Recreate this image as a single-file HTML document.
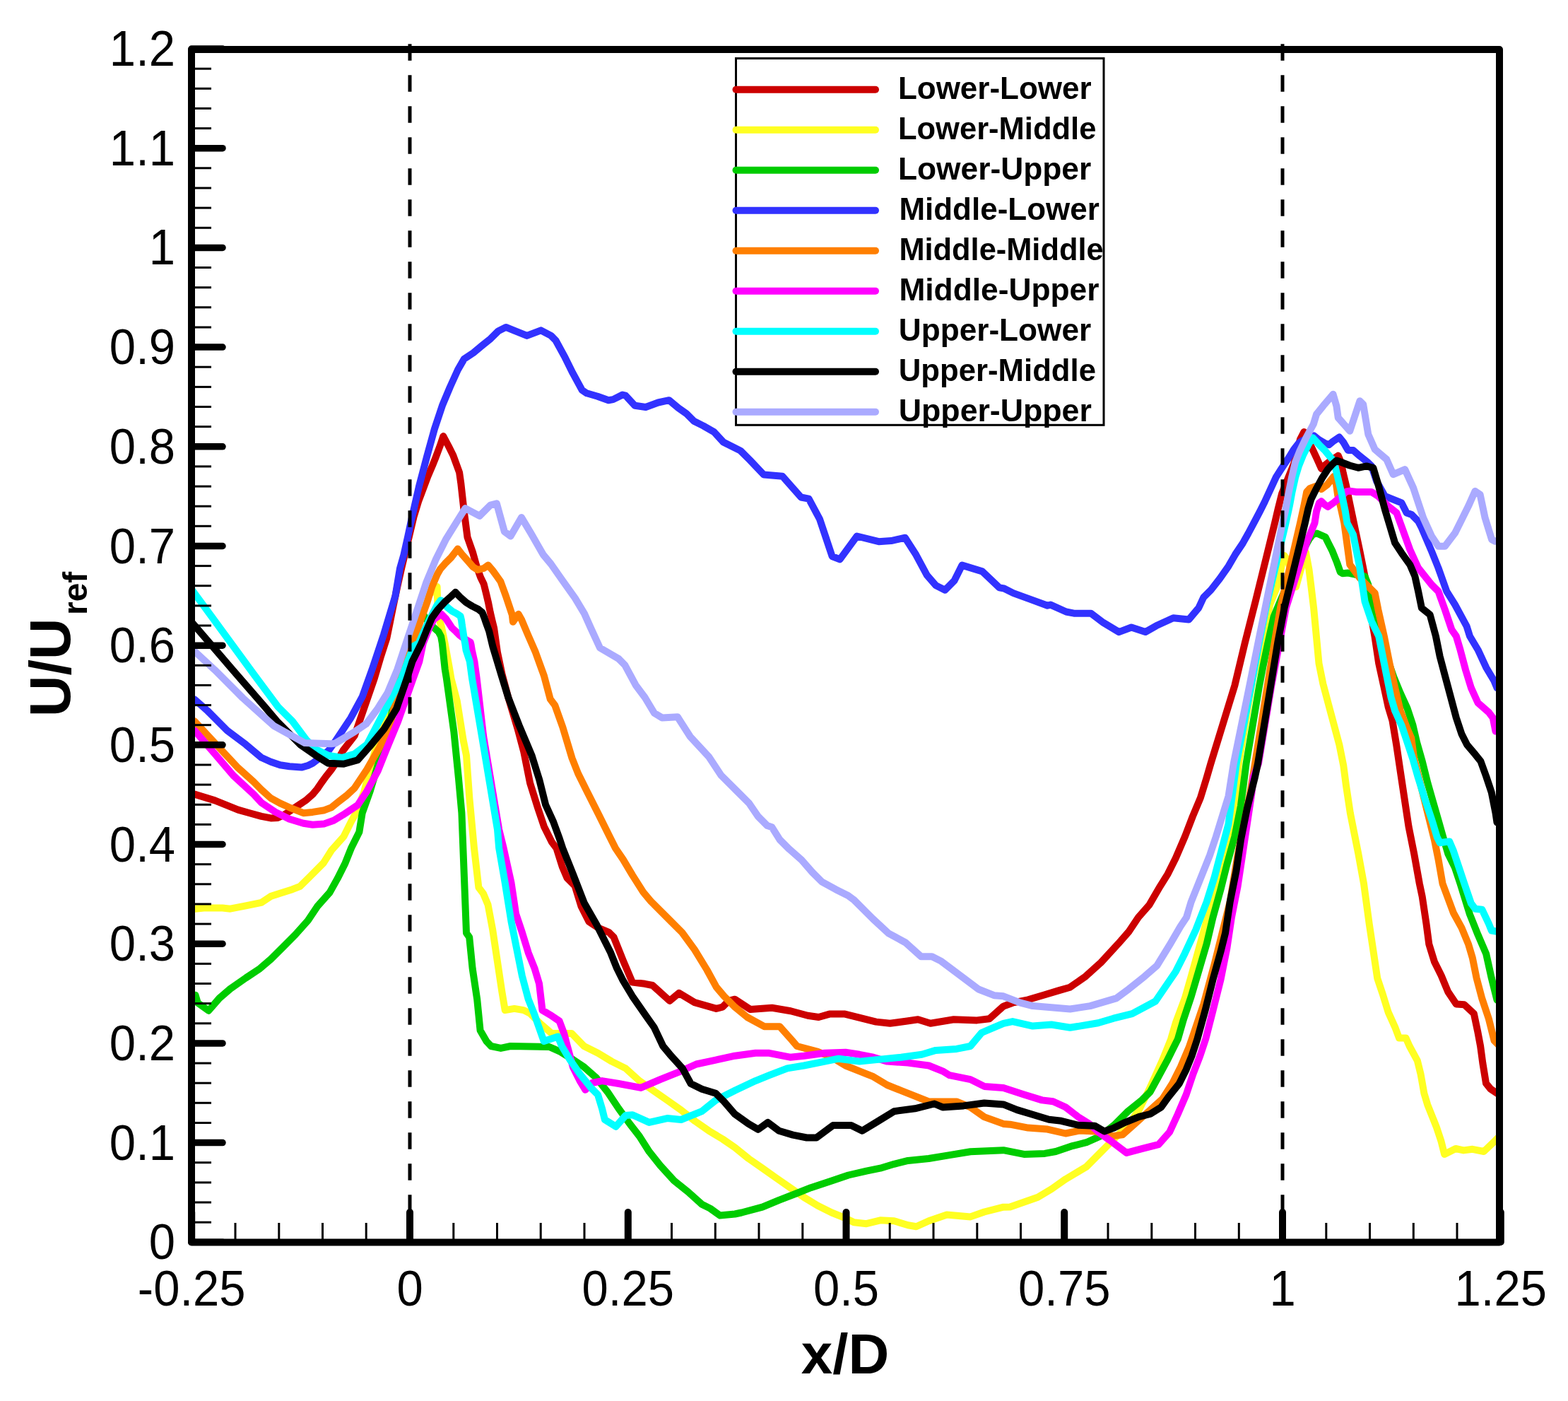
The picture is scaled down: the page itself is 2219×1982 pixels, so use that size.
<!DOCTYPE html>
<html><head><meta charset="utf-8"><title>U/Uref vs x/D</title>
<style>html,body{margin:0;padding:0;background:#fff;}svg{display:block;}</style>
</head><body>
<svg xmlns="http://www.w3.org/2000/svg" width="2219" height="1982" viewBox="0 0 2219 1982">
<defs><clipPath id="clip"><rect x="271" y="70" width="1851" height="1687.5"/></clipPath></defs>
<rect width="2219" height="1982" fill="#fff"/>
<g fill="none" stroke-linejoin="round" stroke-linecap="round" clip-path="url(#clip)">
<polyline points="275.4,1123.6 304.0,1132.4 336.9,1145.6 352.3,1150.0 370.0,1154.8 383.2,1157.4 393.0,1157.0 403.0,1152.2 413.0,1145.5 422.7,1139.0 432.6,1132.4 442.5,1123.8 449.1,1115.9 454.4,1108.0 461.0,1098.8 468.9,1088.9 477.0,1077.0 485.4,1061.9 501.8,1040.7 529.7,960.0 538.5,930.3 547.3,902.9 552.0,880.0 556.2,859.0 562.0,831.4 568.2,804.0 578.7,760.0 585.5,731.4 592.1,709.5 598.7,691.9 605.3,674.3 611.9,658.9 616.3,647.9 622.9,630.3 627.3,617.1 634.7,631.0 641.3,644.2 650.1,668.4 652.3,683.7 656.7,723.3 661.5,760.0 669.2,782.0 674.7,801.8 680.2,817.1 684.6,825.9 688.1,840.0 691.2,853.2 693.8,866.4 696.9,879.6 699.1,888.4 704.0,923.1 710.5,953.8 719.3,986.8 732.5,1030.8 741.3,1063.7 750.1,1107.7 761.1,1142.9 769.9,1169.2 780.9,1191.2 787.5,1200.0 796.0,1226.9 802.6,1242.3 813.6,1253.3 822.4,1281.9 833.4,1303.8 846.6,1312.6 862.0,1319.2 868.6,1325.8 881.8,1358.8 894.9,1389.6 912.5,1391.8 923.5,1394.0 947.7,1415.9 960.9,1404.9 982.9,1418.1 1013.6,1426.9 1022.4,1424.7 1031.2,1415.9 1040.0,1413.7 1061.8,1428.0 1092.5,1425.8 1118.9,1430.2 1143.1,1436.8 1158.5,1439.0 1173.8,1434.6 1195.8,1434.6 1239.8,1445.6 1259.6,1447.8 1283.7,1444.5 1299.1,1442.3 1316.7,1447.8 1349.7,1442.3 1382.6,1443.4 1400.2,1441.2 1420.0,1423.6 1433.0,1418.7 1454.9,1414.3 1476.9,1407.7 1498.9,1401.1 1514.3,1396.7 1536.3,1381.3 1558.2,1361.5 1582.4,1335.2 1597.8,1317.6 1611.0,1297.8 1626.4,1280.2 1641.8,1253.8 1652.7,1236.3 1663.7,1214.3 1676.9,1183.5 1687.9,1154.9 1698.9,1128.6 1707.7,1100.0 1713.5,1080.0 1747.3,970.0 1761.8,909.3 1776.9,850.0 1804.0,740.0 1808.7,720.0 1814.2,698.0 1823.2,675.5 1831.2,656.0 1840.0,621.5 1845.4,611.0 1851.0,622.0 1857.7,636.2 1863.1,647.7 1870.0,663.0 1874.6,658.5 1882.3,652.3 1893.8,644.6 1897.7,653.8 1900.8,669.2 1905.4,688.5 1910.0,711.5 1924.4,779.9 1933.9,827.1 1941.0,874.4 1945.4,900.0 1951.2,938.5 1958.8,973.1 1964.6,1000.0 1970.4,1019.2 1976.2,1053.8 1981.9,1092.3 1987.7,1130.8 1993.5,1169.2 2001.2,1207.7 2008.8,1250.0 2012.7,1268.5 2018.5,1306.9 2022.3,1335.8 2030.0,1360.8 2039.6,1380.0 2049.2,1403.1 2060.8,1420.4 2072.3,1421.3 2085.8,1433.8 2091.5,1460.8 2095.1,1480.0 2098.3,1503.9 2103.0,1532.6 2109.4,1540.5 2123.7,1550.1" stroke="#cc0000" stroke-width="10"/>
<polyline points="276.5,1285.7 288.6,1284.6 314.9,1284.6 325.9,1285.7 347.9,1281.3 369.9,1276.9 383.1,1268.1 396.3,1263.7 413.8,1258.2 424.8,1253.8 438.0,1240.7 457.8,1220.9 468.8,1203.3 486.4,1183.5 497.4,1161.5 504.0,1150.0 514.9,1121.4 525.9,1079.7 539.1,1033.5 552.3,991.8 560.4,960.0 568.1,938.0 576.9,913.8 585.4,910.0 591.1,878.4 597.3,852.0 607.8,841.0 618.6,830.0 618.9,843.2 619.5,854.2 621.0,874.0 624.9,887.1 629.6,910.0 636.3,946.8 638.5,960.0 646.8,991.8 655.6,1046.7 660.0,1068.7 664.4,1129.7 671.0,1200.0 677.4,1255.5 684.0,1264.3 690.5,1279.7 697.1,1314.8 703.7,1358.8 710.3,1402.7 714.7,1429.1 727.9,1426.9 741.1,1429.1 749.9,1433.5 763.1,1446.7 780.7,1462.1 809.2,1462.1 826.5,1480.0 846.1,1489.8 865.7,1501.6 885.3,1511.4 905.0,1529.1 924.6,1542.8 944.2,1556.5 963.8,1570.3 983.5,1586.0 1003.1,1599.7 1022.7,1611.5 1040.0,1623.3 1059.3,1639.0 1078.9,1652.7 1098.5,1666.5 1118.1,1680.2 1137.8,1693.9 1157.4,1705.7 1177.0,1715.5 1196.6,1723.4 1208.4,1729.3 1226.1,1731.2 1245.7,1726.3 1265.3,1727.3 1285.0,1733.2 1296.7,1735.2 1314.4,1727.3 1339.9,1718.5 1373.3,1721.4 1392.9,1714.5 1420.0,1707.7 1429.4,1707.5 1468.7,1693.7 1488.3,1682.0 1507.9,1668.2 1537.4,1650.6 1557.0,1630.9 1576.6,1611.3 1596.3,1591.7 1612.0,1570.1 1625.7,1542.6 1635.5,1521.0 1645.3,1499.4 1653.2,1479.8 1657.1,1470.0 1663.7,1447.3 1676.9,1412.1 1685.7,1381.3 1696.7,1341.8 1707.7,1302.2 1718.7,1262.6 1729.7,1223.1 1738.5,1183.5 1747.3,1144.0 1753.0,1080.0 1773.0,960.0 1791.0,889.6 1797.2,855.0 1806.4,832.3 1811.6,812.5 1814.3,796.0 1817.6,786.1 1822.2,792.7 1834.0,830.3 1847.9,780.9 1852.5,805.9 1855.8,832.3 1859.1,860.0 1866.5,938.5 1872.3,967.3 1880.0,996.2 1887.7,1025.0 1895.4,1053.8 1901.2,1082.7 1905.0,1111.5 1910.8,1150.0 1916.5,1178.8 1922.3,1207.7 1930.0,1250.0 1937.7,1306.9 1943.5,1345.4 1949.2,1383.8 1956.9,1406.9 1964.6,1431.9 1974.2,1453.1 1980.0,1468.5 1989.6,1468.5 1994.7,1480.0 2005.9,1500.7 2010.6,1519.8 2015.4,1546.9 2020.2,1562.8 2026.6,1578.8 2032.9,1594.7 2039.3,1613.8 2044.1,1632.9 2060.0,1625.0 2071.2,1627.4 2083.9,1625.8 2099.9,1629.0 2115.8,1613.8 2123.7,1605.9" stroke="#ffff22" stroke-width="10"/>
<polyline points="276.5,1407.7 279.8,1418.7 295.2,1429.7 310.5,1412.1 325.9,1398.9 347.9,1383.5 367.7,1370.3 383.1,1357.1 400.7,1339.6 418.2,1322.0 435.8,1302.2 449.0,1282.4 466.6,1262.6 477.6,1242.9 488.6,1220.9 497.4,1198.9 508.4,1176.9 512.7,1150.0 523.7,1119.2 536.9,1075.3 550.1,1033.5 563.2,960.0 571.4,935.8 575.3,910.0 584.5,887.1 591.1,869.6 596.4,863.4 602.1,874.8 612.2,886.3 620.5,893.7 624.1,900.3 625.8,910.0 629.7,946.8 631.9,960.0 642.4,1035.7 649.0,1101.6 653.4,1150.0 660.0,1319.8 664.2,1325.8 668.6,1369.8 675.2,1413.7 679.6,1457.7 688.4,1473.1 695.0,1480.0 708.7,1482.9 722.4,1480.0 777.4,1481.0 793.1,1487.9 808.8,1497.7 826.5,1509.4 844.1,1525.1 859.8,1544.8 875.5,1568.3 891.2,1589.9 905.0,1607.6 918.7,1629.2 934.4,1648.8 954.0,1670.4 973.7,1686.1 993.3,1703.7 1005.1,1709.6 1018.8,1719.5 1040.0,1717.5 1049.4,1715.5 1078.9,1707.7 1102.4,1697.9 1127.9,1688.0 1147.6,1680.2 1177.0,1670.4 1200.6,1662.5 1226.1,1656.6 1245.7,1652.7 1265.3,1646.8 1285.0,1641.9 1314.4,1639.0 1343.8,1634.1 1373.3,1629.2 1420.0,1627.2 1449.1,1632.9 1478.5,1631.9 1494.2,1629.0 1517.8,1621.1 1537.4,1616.2 1557.0,1607.4 1576.6,1591.7 1596.3,1572.1 1615.9,1556.4 1627.7,1544.6 1639.5,1523.0 1651.2,1501.4 1661.0,1481.8 1666.9,1470.0 1674.7,1442.9 1685.7,1409.9 1696.7,1372.5 1707.7,1335.2 1716.5,1297.8 1727.5,1258.2 1736.3,1223.1 1747.3,1183.5 1756.0,1139.6 1763.6,1080.0 1782.2,970.0 1787.5,942.3 1794.4,909.3 1802.6,872.4 1812.0,850.0 1824.0,822.0 1836.0,797.0 1846.0,775.0 1852.5,763.0 1858.0,756.0 1863.7,754.5 1875.6,759.8 1878.9,766.4 1885.5,779.6 1892.1,796.0 1896.7,809.2 1900.0,811.2 1907.9,810.6 1919.7,813.0 1931.5,815.3 1936.3,827.1 1938.6,850.8 1943.3,874.4 1972.3,957.7 1981.9,980.8 1991.5,1001.9 1999.2,1025.0 2005.0,1050.0 2012.7,1076.9 2020.4,1107.7 2028.1,1134.6 2035.8,1161.5 2043.5,1188.5 2049.2,1207.7 2058.8,1226.9 2066.5,1250.0 2080.0,1293.5 2091.5,1322.3 2103.1,1349.2 2110.8,1383.8 2118.5,1414.6" stroke="#00cc00" stroke-width="10"/>
<polyline points="275.4,989.6 293.0,1004.9 321.5,1033.5 347.9,1053.3 370.0,1071.8 383.2,1077.7 396.4,1082.3 409.6,1084.3 426.7,1085.6 435.9,1083.0 442.5,1079.7 455.7,1069.8 465.6,1061.2 474.3,1048.9 496.3,1015.9 512.7,985.7 526.5,947.3 543.0,897.8 559.5,842.9 566.0,804.0 571.4,785.0 577.0,760.0 582.0,736.5 593.0,688.1 604.0,646.4 614.9,606.8 625.9,573.8 636.9,547.5 647.9,523.3 656.7,507.9 669.9,499.1 683.1,488.1 694.1,479.3 705.1,468.4 716.0,462.9 727.0,467.3 745.7,474.9 765.5,467.3 779.8,474.9 786.4,481.5 799.6,505.7 810.5,527.7 823.7,551.9 830.3,556.3 845.7,560.7 861.1,566.2 867.7,565.1 880.9,558.5 885.3,559.6 898.5,573.8 913.8,576.0 931.4,569.5 946.8,566.2 960.0,577.1 971.0,584.8 982.0,595.8 995.2,602.4 1010.5,611.2 1023.7,625.5 1047.9,637.6 1061.1,650.8 1080.9,671.6 1107.3,673.8 1133.6,703.5 1144.6,705.7 1160.0,734.3 1168.8,760.7 1177.6,787.0 1188.6,791.4 1212.7,758.5 1243.5,766.2 1261.1,765.1 1280.9,760.7 1296.3,784.8 1311.6,813.4 1324.2,828.1 1337.4,834.7 1350.5,821.5 1361.5,799.6 1390.1,808.4 1414.3,831.4 1420.9,832.5 1434.1,839.1 1458.2,847.9 1482.4,856.7 1486.8,855.6 1508.8,865.5 1519.8,867.7 1544.0,867.7 1561.5,880.9 1583.5,894.1 1601.1,887.5 1620.9,894.1 1636.3,885.3 1660.4,874.3 1682.4,876.5 1696.3,860.0 1703.3,845.0 1713.8,834.5 1726.2,818.7 1738.5,801.1 1748.1,784.4 1758.7,768.6 1766.6,754.5 1774.5,739.6 1782.4,724.6 1789.5,710.5 1805.9,674.9 1813.0,663.8 1823.8,647.5 1830.8,636.0 1837.8,627.0 1843.8,623.0 1859.2,616.2 1866.9,622.3 1874.6,626.9 1880.8,629.2 1886.2,624.6 1895.4,618.5 1901.5,626.2 1907.7,636.9 1915.0,636.9 1924.4,645.2 1936.3,654.7 1941.0,659.4 1948.1,680.7 1959.9,701.9 1983.5,711.4 1990.6,725.5 1997.7,727.9 2007.1,737.4 2011.9,746.8 2026.0,779.9 2035.5,803.5 2047.3,836.6 2059.1,855.5 2075.7,886.2 2080.0,900.0 2091.5,919.2 2103.1,944.2 2114.6,963.5 2118.5,973.1" stroke="#3232ff" stroke-width="10"/>
<polyline points="275.4,1020.3 304.0,1051.1 336.9,1086.3 358.9,1106.0 370.0,1117.2 383.2,1129.1 396.4,1136.4 409.6,1142.3 429.3,1150.2 442.5,1148.9 459.0,1146.2 468.9,1142.3 478.8,1134.4 490.0,1125.8 501.8,1114.8 519.3,1088.5 536.9,1057.7 552.3,1026.9 565.9,960.0 574.7,935.8 584.9,910.0 590.7,891.5 596.6,874.0 604.5,852.0 611.3,830.0 618.7,812.7 623.1,805.1 629.7,797.4 638.5,788.6 647.8,776.5 653.8,784.2 662.6,794.1 669.2,801.8 675.8,806.2 684.6,804.0 690.8,799.6 697.4,807.3 702.9,814.9 708.4,822.6 711.6,831.4 716.0,843.5 720.4,856.7 724.8,869.9 725.9,879.8 733.6,868.8 738.0,876.5 746.8,897.4 757.8,922.6 769.9,956.0 778.7,989.0 785.3,997.8 796.3,1028.6 809.5,1072.5 818.2,1094.5 831.4,1120.9 846.8,1151.6 862.2,1182.4 871.0,1200.0 881.8,1215.9 894.9,1237.9 910.3,1262.1 921.3,1275.3 947.7,1301.6 965.3,1319.2 982.9,1343.4 1000.4,1372.0 1013.6,1396.2 1024.6,1409.3 1040.0,1424.7 1057.4,1439.0 1081.5,1452.2 1103.5,1452.2 1121.1,1472.0 1127.9,1480.0 1157.4,1487.9 1177.0,1495.7 1196.6,1507.5 1216.3,1515.3 1235.9,1523.2 1255.5,1535.0 1275.2,1542.8 1294.8,1550.7 1314.4,1558.5 1324.2,1558.5 1353.7,1558.5 1373.3,1566.4 1392.9,1580.1 1420.0,1589.9 1429.4,1590.7 1455.0,1595.6 1482.4,1597.6 1507.9,1603.5 1527.6,1599.5 1549.2,1600.5 1572.7,1607.4 1588.4,1605.4 1606.1,1589.7 1625.7,1572.1 1645.3,1554.4 1659.1,1532.8 1670.9,1509.3 1682.6,1481.8 1686.6,1470.0 1703.3,1420.9 1718.7,1363.7 1729.7,1319.8 1740.7,1275.8 1751.6,1209.9 1760.4,1165.9 1769.2,1122.0 1776.1,1080.0 1793.7,970.0 1803.6,909.3 1812.0,860.0 1840.0,740.0 1845.4,715.4 1849.2,696.0 1853.8,691.0 1862.0,688.0 1870.0,692.0 1878.0,686.0 1887.7,674.0 1891.0,685.0 1893.1,700.0 1897.7,719.2 1902.3,740.0 1910.3,798.8 1924.4,817.7 1945.7,839.0 1950.4,862.6 1958.8,900.0 1966.5,938.5 1974.2,973.1 1981.9,1005.8 1991.5,1030.8 1997.3,1044.2 2001.2,1073.1 2010.8,1111.5 2020.4,1150.0 2030.0,1188.5 2035.8,1217.3 2041.5,1250.0 2056.9,1291.5 2068.5,1312.7 2078.1,1335.8 2083.8,1355.0 2089.6,1383.8 2097.3,1412.7 2106.9,1441.5 2114.6,1472.3 2122.3,1480.0" stroke="#ff7f00" stroke-width="10"/>
<polyline points="275.4,1033.5 304.0,1066.5 330.3,1097.3 358.9,1123.6 370.0,1135.7 389.8,1148.9 409.6,1158.8 429.3,1164.7 442.5,1166.7 459.0,1165.4 472.2,1160.7 485.4,1152.8 506.2,1139.0 519.3,1119.2 534.7,1090.7 547.9,1057.7 563.3,1020.3 576.5,983.0 584.6,960.0 593.4,935.8 598.8,910.0 608.0,887.1 614.0,876.2 624.4,868.6 631.0,875.2 635.4,881.8 639.8,888.4 645.5,893.6 650.8,898.9 657.4,903.7 665.7,908.6 666.6,912.1 667.9,920.0 671.4,935.8 674.7,960.0 684.2,1041.8 695.2,1107.7 706.2,1173.6 712.7,1200.0 723.5,1248.9 730.1,1292.9 738.9,1319.2 747.7,1347.8 756.5,1369.8 763.1,1391.8 767.5,1429.1 778.5,1435.7 791.6,1444.5 798.2,1462.1 802.9,1480.0 810.8,1509.4 820.6,1529.1 828.4,1541.8 838.2,1532.0 852.0,1529.1 875.5,1533.0 906.9,1538.9 934.4,1527.1 963.8,1515.3 985.4,1505.5 1012.9,1499.6 1040.0,1493.7 1069.1,1489.8 1088.7,1489.8 1118.1,1495.7 1137.8,1493.7 1167.2,1489.8 1196.6,1488.8 1216.3,1491.8 1235.9,1495.7 1255.5,1501.6 1285.0,1503.6 1314.4,1507.5 1334.0,1515.3 1343.8,1521.2 1373.3,1527.1 1392.9,1536.9 1420.0,1538.9 1449.1,1548.5 1474.6,1556.4 1490.3,1558.3 1507.9,1566.2 1525.6,1579.9 1541.3,1589.7 1557.0,1603.5 1570.8,1613.3 1594.3,1630.9 1615.9,1625.1 1639.5,1619.2 1655.2,1601.5 1666.9,1576.0 1678.7,1548.5 1688.5,1519.1 1698.3,1493.6 1706.2,1470.0 1716.5,1429.7 1727.5,1385.7 1736.3,1341.8 1742.9,1297.8 1751.6,1253.8 1758.2,1209.9 1764.8,1165.9 1771.4,1122.0 1773.6,1100.0 1781.0,1080.0 1799.3,970.0 1819.9,860.0 1849.5,766.4 1860.5,740.0 1863.1,723.1 1866.9,711.5 1870.0,709.2 1874.6,713.8 1879.2,716.9 1886.9,711.5 1896.2,703.8 1905.4,695.4 1910.0,694.6 1919.7,696.0 1941.0,696.0 1950.4,701.9 1964.6,716.1 1976.4,725.5 1985.9,751.5 1995.3,777.5 2007.1,803.5 2026.0,827.1 2035.5,836.6 2044.9,862.6 2054.4,890.9 2060.8,900.0 2066.5,919.2 2074.2,948.1 2081.9,973.1 2091.5,994.2 2106.9,1007.7 2112.7,1015.4 2116.5,1034.6" stroke="#ff00ff" stroke-width="10"/>
<polyline points="272.0,835.0 300.0,873.0 330.0,914.0 360.0,955.0 393.5,1000.0 413.8,1020.3 433.6,1046.7 446.8,1059.9 464.4,1068.7 484.2,1072.0 501.8,1066.5 519.3,1053.3 568.1,960.0 576.9,935.8 585.7,913.8 592.6,910.0 600.8,891.5 609.3,874.0 618.4,856.4 623.6,849.3 627.1,851.1 632.3,858.5 639.8,864.6 646.4,868.1 651.6,871.6 653.0,877.4 653.8,884.0 655.2,892.7 656.5,901.5 658.2,910.3 659.6,920.0 664.8,935.8 668.1,960.0 682.0,1041.8 693.0,1107.7 704.0,1173.6 706.2,1200.0 714.7,1248.9 723.5,1303.8 730.1,1336.8 738.9,1380.8 747.7,1413.7 756.5,1435.7 769.7,1473.1 789.5,1466.5 795.1,1480.0 806.8,1499.6 820.6,1519.3 836.3,1538.9 846.1,1548.7 852.0,1568.3 855.9,1584.0 871.6,1593.8 885.3,1578.1 895.2,1577.2 918.7,1587.9 944.2,1582.1 963.8,1584.0 993.3,1572.2 1012.9,1556.5 1040.0,1542.8 1069.1,1529.1 1088.7,1521.2 1114.2,1511.4 1137.8,1507.5 1167.2,1501.6 1186.8,1497.7 1216.3,1501.6 1245.7,1498.6 1275.2,1495.7 1304.6,1491.8 1324.2,1485.9 1353.7,1483.9 1373.3,1480.0 1389.2,1461.0 1404.6,1454.4 1420.0,1447.8 1433.0,1445.1 1461.5,1451.6 1487.9,1449.5 1514.3,1453.8 1553.8,1447.3 1575.8,1440.7 1602.2,1434.1 1635.2,1416.5 1663.7,1374.7 1676.9,1348.4 1692.3,1315.4 1707.7,1275.8 1718.7,1240.7 1729.7,1198.9 1738.5,1165.9 1749.8,1080.0 1770.7,970.0 1781.9,909.3 1792.5,855.0 1819.5,740.0 1824.8,716.0 1828.5,696.2 1833.1,675.4 1837.7,660.0 1843.8,644.6 1851.5,629.2 1857.7,619.2 1866.9,629.2 1874.6,636.9 1882.3,646.2 1887.7,652.3 1890.8,665.4 1897.3,692.3 1903.8,723.1 1906.5,740.0 1915.0,756.3 1924.4,803.5 1931.5,850.8 1941.0,879.1 1951.2,900.0 1956.9,928.8 1962.7,957.7 1968.5,986.5 1974.2,1005.8 1983.8,1026.9 1991.5,1050.0 1999.2,1073.1 2006.9,1100.0 2016.5,1130.8 2026.2,1159.6 2033.8,1184.6 2037.7,1192.3 2051.2,1190.4 2056.9,1203.8 2064.6,1226.9 2072.3,1250.0 2081.9,1278.1 2087.7,1285.8 2097.3,1286.7 2106.9,1306.9 2110.8,1316.5 2122.3,1318.5" stroke="#00ffff" stroke-width="10"/>
<polyline points="272.0,881.0 300.0,913.5 330.0,948.5 374.8,1000.0 391.9,1020.3 424.8,1053.3 446.8,1068.7 464.4,1079.7 486.4,1080.8 506.2,1075.3 523.7,1055.5 543.5,1031.3 561.1,1002.7 575.8,960.0 583.5,935.8 596.4,910.0 603.8,891.5 611.3,874.0 620.0,862.0 628.8,852.3 637.6,844.4 644.6,837.8 650.8,844.4 659.6,852.3 668.4,857.6 677.1,862.0 682.4,866.4 685.1,873.0 688.1,881.8 692.1,892.7 694.7,903.7 697.4,914.7 710.5,958.2 719.3,986.8 734.7,1026.4 752.3,1068.1 763.3,1103.3 772.1,1138.5 783.1,1162.6 791.9,1186.8 796.3,1200.0 811.4,1237.9 826.8,1277.5 844.4,1308.2 855.4,1330.2 864.2,1347.8 873.0,1369.8 881.8,1387.4 894.9,1409.3 914.7,1437.9 925.7,1453.3 938.3,1480.0 948.1,1491.8 965.8,1511.4 977.6,1533.0 993.3,1540.8 1012.9,1546.7 1024.7,1558.5 1040.0,1576.2 1059.3,1589.9 1073.0,1597.8 1086.7,1587.9 1102.4,1599.7 1122.1,1605.6 1141.7,1609.5 1155.4,1609.5 1179.0,1591.9 1204.5,1591.9 1220.2,1599.7 1239.8,1587.9 1265.3,1572.2 1294.8,1568.3 1322.3,1561.5 1334.0,1566.4 1363.5,1564.4 1392.9,1560.5 1420.0,1562.4 1439.3,1570.1 1458.9,1576.0 1484.4,1583.8 1502.1,1585.8 1525.6,1591.7 1549.2,1592.7 1562.9,1600.5 1576.6,1595.6 1592.3,1587.8 1612.0,1579.9 1627.7,1576.0 1643.4,1566.2 1653.2,1552.4 1668.9,1532.8 1678.7,1513.2 1686.6,1493.6 1694.4,1470.0 1705.5,1429.7 1716.5,1385.7 1727.5,1346.2 1734.1,1319.8 1740.7,1275.8 1749.5,1231.9 1756.0,1187.9 1764.8,1144.0 1775.8,1100.0 1780.1,1080.0 1798.3,970.0 1808.2,909.3 1817.6,860.0 1846.8,740.0 1851.5,719.2 1855.4,706.2 1863.1,690.8 1871.5,675.4 1879.2,663.8 1886.2,656.2 1891.5,651.5 1897.7,653.8 1910.0,658.5 1922.1,661.8 1933.9,659.4 1943.3,661.8 1950.4,685.4 1959.9,720.8 1967.0,744.4 1974.1,768.1 1983.5,782.3 1995.3,798.8 2002.4,815.3 2007.1,836.6 2011.9,860.2 2023.7,869.7 2031.9,900.0 2037.7,928.8 2045.4,957.7 2053.1,986.5 2060.8,1015.4 2068.5,1038.5 2076.2,1053.8 2087.7,1067.3 2095.4,1076.9 2103.1,1098.1 2110.8,1121.2 2116.5,1150.0 2118.5,1163.5" stroke="#000000" stroke-width="10"/>
<polyline points="275.4,921.4 304.0,947.8 343.5,987.4 387.5,1026.9 431.4,1051.1 468.8,1052.2 474.3,1051.6 501.8,1035.2 518.2,1024.2 534.7,1002.2 548.5,980.2 562.2,947.3 575.9,906.0 589.7,864.8 603.4,823.6 617.1,790.7 630.9,763.2 644.6,741.2 658.4,719.2 678.7,729.9 694.1,714.5 702.9,712.3 713.8,751.9 722.6,758.5 738.0,732.1 751.2,754.1 768.8,784.8 779.8,798.0 795.2,820.0 813.8,846.2 827.0,868.1 835.8,887.9 849.0,916.5 875.4,931.9 884.2,940.7 899.6,969.2 912.7,986.8 925.9,1008.8 936.9,1015.4 958.9,1014.3 976.5,1041.8 1002.9,1070.3 1020.4,1096.7 1044.6,1120.9 1060.0,1136.3 1072.7,1154.9 1085.9,1168.1 1092.5,1170.3 1103.5,1187.9 1116.7,1201.1 1134.3,1216.5 1149.7,1234.1 1162.9,1247.3 1182.6,1258.2 1200.2,1267.0 1209.0,1273.6 1226.6,1291.2 1235.4,1300.0 1257.4,1320.3 1281.5,1333.5 1303.5,1353.3 1318.9,1353.3 1332.1,1359.9 1358.5,1379.7 1384.8,1399.5 1406.8,1408.2 1420.0,1409.3 1444.0,1418.7 1461.5,1423.1 1487.9,1425.3 1514.3,1427.5 1542.9,1423.1 1580.2,1412.1 1597.8,1398.9 1619.8,1381.3 1637.4,1365.9 1654.9,1337.4 1670.3,1311.0 1679.1,1297.8 1685.7,1275.8 1698.9,1242.9 1712.1,1209.9 1720.9,1183.5 1729.7,1154.9 1738.5,1126.4 1745.8,1080.0 1768.3,970.0 1780.5,909.3 1790.5,860.0 1815.0,740.0 1819.2,722.0 1823.1,700.0 1827.7,676.9 1833.1,653.8 1839.2,638.5 1848.5,619.2 1858.8,600.0 1863.0,586.2 1872.5,574.3 1886.6,557.8 1891.4,574.3 1893.7,590.9 1910.3,609.8 1924.4,567.3 1929.2,572.0 1936.3,614.5 1945.7,635.8 1962.3,649.9 1971.7,671.2 1988.2,664.1 2000.1,690.1 2014.2,732.6 2026.0,758.6 2035.5,772.8 2044.9,772.8 2059.1,753.9 2068.6,735.0 2078.0,716.1 2087.5,694.8 2094.6,699.6 2101.6,732.6 2111.1,763.3 2115.8,765.7" stroke="#aaaaff" stroke-width="10"/>
</g>
<line x1="580.0" y1="62.2" x2="580.0" y2="1757" stroke="#000" stroke-width="5" stroke-dasharray="23.6 20.4"/>
<line x1="1815.0" y1="62.2" x2="1815.0" y2="1757" stroke="#000" stroke-width="5" stroke-dasharray="23.6 20.4"/>
<line x1="271" y1="1757.3" x2="315" y2="1757.3" stroke="#000" stroke-width="9.5" stroke-linecap="round"/>
<line x1="271" y1="1729.2" x2="299" y2="1729.2" stroke="#000" stroke-width="3"/>
<line x1="271" y1="1701.0" x2="299" y2="1701.0" stroke="#000" stroke-width="3"/>
<line x1="271" y1="1672.9" x2="299" y2="1672.9" stroke="#000" stroke-width="3"/>
<line x1="271" y1="1644.7" x2="299" y2="1644.7" stroke="#000" stroke-width="3"/>
<line x1="271" y1="1616.6" x2="315" y2="1616.6" stroke="#000" stroke-width="9.5" stroke-linecap="round"/>
<line x1="271" y1="1588.5" x2="299" y2="1588.5" stroke="#000" stroke-width="3"/>
<line x1="271" y1="1560.3" x2="299" y2="1560.3" stroke="#000" stroke-width="3"/>
<line x1="271" y1="1532.2" x2="299" y2="1532.2" stroke="#000" stroke-width="3"/>
<line x1="271" y1="1504.1" x2="299" y2="1504.1" stroke="#000" stroke-width="3"/>
<line x1="271" y1="1475.9" x2="315" y2="1475.9" stroke="#000" stroke-width="9.5" stroke-linecap="round"/>
<line x1="271" y1="1447.8" x2="299" y2="1447.8" stroke="#000" stroke-width="3"/>
<line x1="271" y1="1419.6" x2="299" y2="1419.6" stroke="#000" stroke-width="3"/>
<line x1="271" y1="1391.5" x2="299" y2="1391.5" stroke="#000" stroke-width="3"/>
<line x1="271" y1="1363.4" x2="299" y2="1363.4" stroke="#000" stroke-width="3"/>
<line x1="271" y1="1335.2" x2="315" y2="1335.2" stroke="#000" stroke-width="9.5" stroke-linecap="round"/>
<line x1="271" y1="1307.1" x2="299" y2="1307.1" stroke="#000" stroke-width="3"/>
<line x1="271" y1="1279.0" x2="299" y2="1279.0" stroke="#000" stroke-width="3"/>
<line x1="271" y1="1250.8" x2="299" y2="1250.8" stroke="#000" stroke-width="3"/>
<line x1="271" y1="1222.7" x2="299" y2="1222.7" stroke="#000" stroke-width="3"/>
<line x1="271" y1="1194.5" x2="315" y2="1194.5" stroke="#000" stroke-width="9.5" stroke-linecap="round"/>
<line x1="271" y1="1166.4" x2="299" y2="1166.4" stroke="#000" stroke-width="3"/>
<line x1="271" y1="1138.3" x2="299" y2="1138.3" stroke="#000" stroke-width="3"/>
<line x1="271" y1="1110.1" x2="299" y2="1110.1" stroke="#000" stroke-width="3"/>
<line x1="271" y1="1082.0" x2="299" y2="1082.0" stroke="#000" stroke-width="3"/>
<line x1="271" y1="1053.8" x2="315" y2="1053.8" stroke="#000" stroke-width="9.5" stroke-linecap="round"/>
<line x1="271" y1="1025.7" x2="299" y2="1025.7" stroke="#000" stroke-width="3"/>
<line x1="271" y1="997.6" x2="299" y2="997.6" stroke="#000" stroke-width="3"/>
<line x1="271" y1="969.4" x2="299" y2="969.4" stroke="#000" stroke-width="3"/>
<line x1="271" y1="941.3" x2="299" y2="941.3" stroke="#000" stroke-width="3"/>
<line x1="271" y1="913.2" x2="315" y2="913.2" stroke="#000" stroke-width="9.5" stroke-linecap="round"/>
<line x1="271" y1="885.0" x2="299" y2="885.0" stroke="#000" stroke-width="3"/>
<line x1="271" y1="856.9" x2="299" y2="856.9" stroke="#000" stroke-width="3"/>
<line x1="271" y1="828.7" x2="299" y2="828.7" stroke="#000" stroke-width="3"/>
<line x1="271" y1="800.6" x2="299" y2="800.6" stroke="#000" stroke-width="3"/>
<line x1="271" y1="772.5" x2="315" y2="772.5" stroke="#000" stroke-width="9.5" stroke-linecap="round"/>
<line x1="271" y1="744.3" x2="299" y2="744.3" stroke="#000" stroke-width="3"/>
<line x1="271" y1="716.2" x2="299" y2="716.2" stroke="#000" stroke-width="3"/>
<line x1="271" y1="688.1" x2="299" y2="688.1" stroke="#000" stroke-width="3"/>
<line x1="271" y1="659.9" x2="299" y2="659.9" stroke="#000" stroke-width="3"/>
<line x1="271" y1="631.8" x2="315" y2="631.8" stroke="#000" stroke-width="9.5" stroke-linecap="round"/>
<line x1="271" y1="603.6" x2="299" y2="603.6" stroke="#000" stroke-width="3"/>
<line x1="271" y1="575.5" x2="299" y2="575.5" stroke="#000" stroke-width="3"/>
<line x1="271" y1="547.4" x2="299" y2="547.4" stroke="#000" stroke-width="3"/>
<line x1="271" y1="519.2" x2="299" y2="519.2" stroke="#000" stroke-width="3"/>
<line x1="271" y1="491.1" x2="315" y2="491.1" stroke="#000" stroke-width="9.5" stroke-linecap="round"/>
<line x1="271" y1="463.0" x2="299" y2="463.0" stroke="#000" stroke-width="3"/>
<line x1="271" y1="434.8" x2="299" y2="434.8" stroke="#000" stroke-width="3"/>
<line x1="271" y1="406.7" x2="299" y2="406.7" stroke="#000" stroke-width="3"/>
<line x1="271" y1="378.5" x2="299" y2="378.5" stroke="#000" stroke-width="3"/>
<line x1="271" y1="350.4" x2="315" y2="350.4" stroke="#000" stroke-width="9.5" stroke-linecap="round"/>
<line x1="271" y1="322.3" x2="299" y2="322.3" stroke="#000" stroke-width="3"/>
<line x1="271" y1="294.1" x2="299" y2="294.1" stroke="#000" stroke-width="3"/>
<line x1="271" y1="266.0" x2="299" y2="266.0" stroke="#000" stroke-width="3"/>
<line x1="271" y1="237.8" x2="299" y2="237.8" stroke="#000" stroke-width="3"/>
<line x1="271" y1="209.7" x2="315" y2="209.7" stroke="#000" stroke-width="9.5" stroke-linecap="round"/>
<line x1="271" y1="181.6" x2="299" y2="181.6" stroke="#000" stroke-width="3"/>
<line x1="271" y1="153.4" x2="299" y2="153.4" stroke="#000" stroke-width="3"/>
<line x1="271" y1="125.3" x2="299" y2="125.3" stroke="#000" stroke-width="3"/>
<line x1="271" y1="97.2" x2="299" y2="97.2" stroke="#000" stroke-width="3"/>
<line x1="271" y1="69.0" x2="315" y2="69.0" stroke="#000" stroke-width="9.5" stroke-linecap="round"/>
<line x1="271.2" y1="1757" x2="271.2" y2="1715" stroke="#000" stroke-width="10" stroke-linecap="round"/>
<line x1="333.0" y1="1757" x2="333.0" y2="1730" stroke="#000" stroke-width="3"/>
<line x1="394.8" y1="1757" x2="394.8" y2="1730" stroke="#000" stroke-width="3"/>
<line x1="456.5" y1="1757" x2="456.5" y2="1730" stroke="#000" stroke-width="3"/>
<line x1="518.2" y1="1757" x2="518.2" y2="1730" stroke="#000" stroke-width="3"/>
<line x1="580.0" y1="1757" x2="580.0" y2="1715" stroke="#000" stroke-width="10" stroke-linecap="round"/>
<line x1="641.8" y1="1757" x2="641.8" y2="1730" stroke="#000" stroke-width="3"/>
<line x1="703.5" y1="1757" x2="703.5" y2="1730" stroke="#000" stroke-width="3"/>
<line x1="765.2" y1="1757" x2="765.2" y2="1730" stroke="#000" stroke-width="3"/>
<line x1="827.0" y1="1757" x2="827.0" y2="1730" stroke="#000" stroke-width="3"/>
<line x1="888.8" y1="1757" x2="888.8" y2="1715" stroke="#000" stroke-width="10" stroke-linecap="round"/>
<line x1="950.5" y1="1757" x2="950.5" y2="1730" stroke="#000" stroke-width="3"/>
<line x1="1012.3" y1="1757" x2="1012.3" y2="1730" stroke="#000" stroke-width="3"/>
<line x1="1074.0" y1="1757" x2="1074.0" y2="1730" stroke="#000" stroke-width="3"/>
<line x1="1135.8" y1="1757" x2="1135.8" y2="1730" stroke="#000" stroke-width="3"/>
<line x1="1197.5" y1="1757" x2="1197.5" y2="1715" stroke="#000" stroke-width="10" stroke-linecap="round"/>
<line x1="1259.2" y1="1757" x2="1259.2" y2="1730" stroke="#000" stroke-width="3"/>
<line x1="1321.0" y1="1757" x2="1321.0" y2="1730" stroke="#000" stroke-width="3"/>
<line x1="1382.8" y1="1757" x2="1382.8" y2="1730" stroke="#000" stroke-width="3"/>
<line x1="1444.5" y1="1757" x2="1444.5" y2="1730" stroke="#000" stroke-width="3"/>
<line x1="1506.2" y1="1757" x2="1506.2" y2="1715" stroke="#000" stroke-width="10" stroke-linecap="round"/>
<line x1="1568.0" y1="1757" x2="1568.0" y2="1730" stroke="#000" stroke-width="3"/>
<line x1="1629.8" y1="1757" x2="1629.8" y2="1730" stroke="#000" stroke-width="3"/>
<line x1="1691.5" y1="1757" x2="1691.5" y2="1730" stroke="#000" stroke-width="3"/>
<line x1="1753.3" y1="1757" x2="1753.3" y2="1730" stroke="#000" stroke-width="3"/>
<line x1="1815.0" y1="1757" x2="1815.0" y2="1715" stroke="#000" stroke-width="10" stroke-linecap="round"/>
<line x1="1876.8" y1="1757" x2="1876.8" y2="1730" stroke="#000" stroke-width="3"/>
<line x1="1938.5" y1="1757" x2="1938.5" y2="1730" stroke="#000" stroke-width="3"/>
<line x1="2000.3" y1="1757" x2="2000.3" y2="1730" stroke="#000" stroke-width="3"/>
<line x1="2062.0" y1="1757" x2="2062.0" y2="1730" stroke="#000" stroke-width="3"/>
<line x1="2123.8" y1="1757" x2="2123.8" y2="1715" stroke="#000" stroke-width="10" stroke-linecap="round"/>
<rect x="271" y="70" width="1851" height="1687.5" fill="none" stroke="#000" stroke-width="10" stroke-linejoin="round"/>
<g font-family="Liberation Sans, Arial, sans-serif" font-size="67" fill="#000">
<text transform="translate(248,1781.3) scale(1,1.045)" text-anchor="end">0</text>
<text transform="translate(248,1640.6) scale(1,1.045)" text-anchor="end">0.1</text>
<text transform="translate(248,1499.9) scale(1,1.045)" text-anchor="end">0.2</text>
<text transform="translate(248,1359.2) scale(1,1.045)" text-anchor="end">0.3</text>
<text transform="translate(248,1218.5) scale(1,1.045)" text-anchor="end">0.4</text>
<text transform="translate(248,1077.8) scale(1,1.045)" text-anchor="end">0.5</text>
<text transform="translate(248,937.2) scale(1,1.045)" text-anchor="end">0.6</text>
<text transform="translate(248,796.5) scale(1,1.045)" text-anchor="end">0.7</text>
<text transform="translate(248,655.8) scale(1,1.045)" text-anchor="end">0.8</text>
<text transform="translate(248,515.1) scale(1,1.045)" text-anchor="end">0.9</text>
<text transform="translate(248,374.4) scale(1,1.045)" text-anchor="end">1</text>
<text transform="translate(248,233.7) scale(1,1.045)" text-anchor="end">1.1</text>
<text transform="translate(248,93.0) scale(1,1.045)" text-anchor="end">1.2</text>
<text transform="translate(271.2,1846.5) scale(1,1.045)" text-anchor="middle">-0.25</text>
<text transform="translate(580.0,1846.5) scale(1,1.045)" text-anchor="middle">0</text>
<text transform="translate(888.8,1846.5) scale(1,1.045)" text-anchor="middle">0.25</text>
<text transform="translate(1197.5,1846.5) scale(1,1.045)" text-anchor="middle">0.5</text>
<text transform="translate(1506.2,1846.5) scale(1,1.045)" text-anchor="middle">0.75</text>
<text transform="translate(1815.0,1846.5) scale(1,1.045)" text-anchor="middle">1</text>
<text transform="translate(2123.8,1846.5) scale(1,1.045)" text-anchor="middle">1.25</text>
</g>
<text x="1196" y="1942.7" text-anchor="middle" font-family="Liberation Sans, Arial, sans-serif" font-weight="bold" font-size="80">x/D</text>
<text transform="translate(99.2,1014) rotate(-90)" font-family="Liberation Sans, Arial, sans-serif" font-weight="bold" font-size="81">U/U<tspan font-size="48" dx="4.5" dy="24">ref</tspan></text>
<rect x="1041.5" y="82.6" width="520.5" height="518.7" fill="#fff" stroke="#000" stroke-width="3"/>
<line x1="1041.5" y1="126.7" x2="1239" y2="126.7" stroke="#cc0000" stroke-width="10" stroke-linecap="round"/>
<text x="1270.9" y="140.0" textLength="273.7" lengthAdjust="spacingAndGlyphs" font-family="Liberation Sans, Arial, sans-serif" font-weight="bold" font-size="44">Lower-Lower</text>
<line x1="1041.5" y1="183.7" x2="1239" y2="183.7" stroke="#ffff22" stroke-width="10" stroke-linecap="round"/>
<text x="1270.9" y="197.0" textLength="280.5" lengthAdjust="spacingAndGlyphs" font-family="Liberation Sans, Arial, sans-serif" font-weight="bold" font-size="44">Lower-Middle</text>
<line x1="1041.5" y1="240.7" x2="1239" y2="240.7" stroke="#00cc00" stroke-width="10" stroke-linecap="round"/>
<text x="1270.9" y="254.0" textLength="273.3" lengthAdjust="spacingAndGlyphs" font-family="Liberation Sans, Arial, sans-serif" font-weight="bold" font-size="44">Lower-Upper</text>
<line x1="1041.5" y1="297.7" x2="1239" y2="297.7" stroke="#3232ff" stroke-width="10" stroke-linecap="round"/>
<text x="1272.4" y="311.0" textLength="283.4" lengthAdjust="spacingAndGlyphs" font-family="Liberation Sans, Arial, sans-serif" font-weight="bold" font-size="44">Middle-Lower</text>
<line x1="1041.5" y1="354.7" x2="1239" y2="354.7" stroke="#ff7f00" stroke-width="10" stroke-linecap="round"/>
<text x="1272.4" y="368.0" textLength="289.2" lengthAdjust="spacingAndGlyphs" font-family="Liberation Sans, Arial, sans-serif" font-weight="bold" font-size="44">Middle-Middle</text>
<line x1="1041.5" y1="411.7" x2="1239" y2="411.7" stroke="#ff00ff" stroke-width="10" stroke-linecap="round"/>
<text x="1272.4" y="425.0" textLength="283.1" lengthAdjust="spacingAndGlyphs" font-family="Liberation Sans, Arial, sans-serif" font-weight="bold" font-size="44">Middle-Upper</text>
<line x1="1041.5" y1="468.7" x2="1239" y2="468.7" stroke="#00ffff" stroke-width="10" stroke-linecap="round"/>
<text x="1271.8" y="482.0" textLength="272.4" lengthAdjust="spacingAndGlyphs" font-family="Liberation Sans, Arial, sans-serif" font-weight="bold" font-size="44">Upper-Lower</text>
<line x1="1041.5" y1="525.7" x2="1239" y2="525.7" stroke="#000000" stroke-width="10" stroke-linecap="round"/>
<text x="1271.8" y="539.0" textLength="279.2" lengthAdjust="spacingAndGlyphs" font-family="Liberation Sans, Arial, sans-serif" font-weight="bold" font-size="44">Upper-Middle</text>
<line x1="1041.5" y1="582.7" x2="1239" y2="582.7" stroke="#aaaaff" stroke-width="10" stroke-linecap="round"/>
<text x="1271.8" y="596.0" textLength="273.0" lengthAdjust="spacingAndGlyphs" font-family="Liberation Sans, Arial, sans-serif" font-weight="bold" font-size="44">Upper-Upper</text>
</svg>
</body></html>
